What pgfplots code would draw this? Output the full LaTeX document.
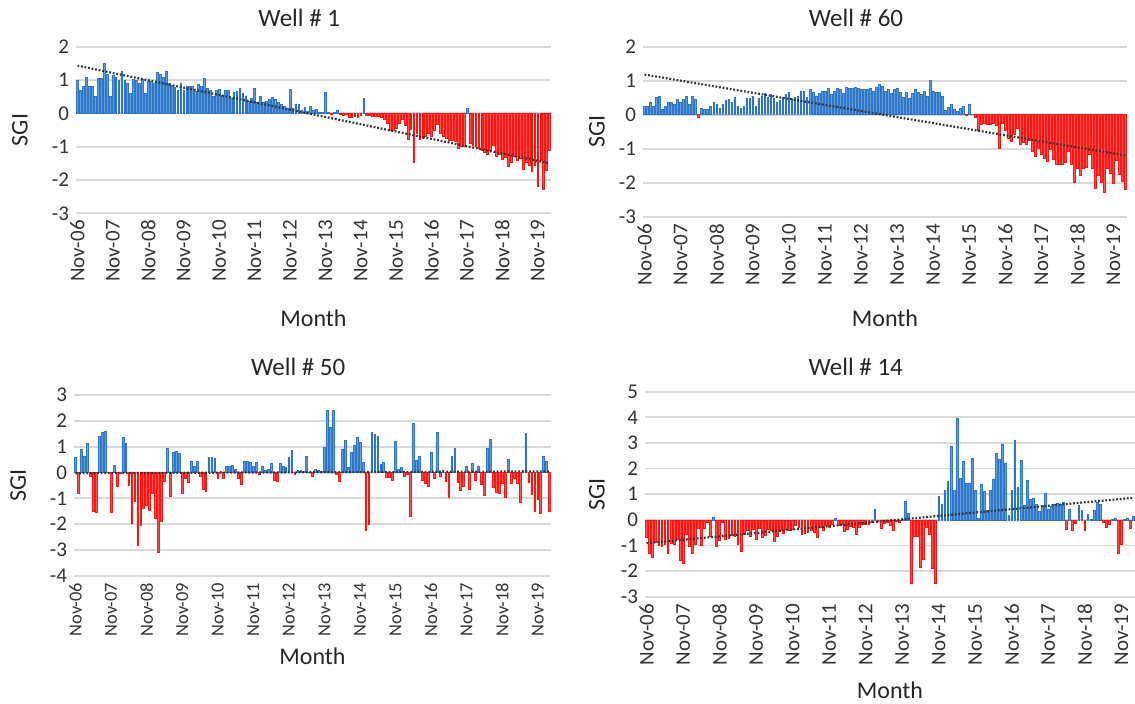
\documentclass[border=0pt]{standalone}
\usepackage{fontspec}
\setmainfont{Carlito}
\usepackage{pgfplots}
\usepackage{pgfplotstable}
\pgfplotsset{compat=1.18}
\definecolor{barblue}{RGB}{100,160,218}
\definecolor{barblueedge}{RGB}{46,117,200}
\definecolor{barred}{RGB}{255,90,90}
\definecolor{barrededge}{RGB}{255,20,20}
\definecolor{gridgray}{RGB}{217,217,217}

% Well # 1 (monthly SGI, Nov-06 onwards)
\pgfplotstableread{
y
0.98
0.68
0.82
1.08
0.82
0.82
0.50
1.05
1.05
1.50
1.17
0.50
1.15
1.08
1.00
1.27
1.00
0.90
0.60
1.02
0.98
0.90
1.02
0.60
0.95
0.95
0.90
1.23
1.17
1.08
1.27
0.90
0.85
0.78
0.70
0.90
0.68
0.82
0.82
0.82
0.65
0.87
0.82
1.05
0.75
0.70
0.52
0.68
0.72
0.55
0.68
0.68
0.45
0.62
0.65
0.75
0.60
0.52
0.35
0.45
0.75
0.32
0.50
0.32
0.35
0.42
0.48
0.42
0.32
0.28
0.22
0.15
0.72
0.15
0.28
0.28
0.10
0.18
0.05
0.20
0.10
0.12
0.02
0.03
0.62
0.03
-0.02
0.02
0.08
-0.03
-0.05
-0.04
-0.12
-0.12
-0.08
-0.12
-0.05
0.45
-0.05
-0.06
-0.08
-0.10
-0.08
-0.12
-0.18
-0.30
-0.50
-0.50
-0.45
-0.30
-0.18
-0.35
-0.78
-0.48
-1.48
-0.60
-0.78
-0.75
-0.70
-0.60
-0.68
-0.50
-0.33
-0.60
-0.68
-0.75
-0.80
-0.80
-0.85
-1.05
-1.00
-1.00
0.15
-0.90
-0.95
-1.00
-1.05
-1.12
-1.18
-1.22
-1.12
-0.95
-1.30
-1.22
-1.38
-1.33
-1.60
-1.48
-1.30
-1.40
-1.35
-1.68
-1.48
-1.55
-1.75
-1.55
-2.18
-1.40
-2.28
-1.70
-1.10
}\wellA

% Well # 60
\pgfplotstableread{
y
0.25
0.25
0.37
0.25
0.52
0.55
0.15
0.25
0.37
0.37
0.32
0.44
0.37
0.44
0.55
0.32
0.55
0.44
-0.08
0.20
0.15
0.15
0.25
0.37
0.30
0.20
0.30
0.42
0.44
0.37
0.52
0.25
0.20
0.25
0.47
0.47
0.55
0.26
0.47
0.55
0.62
0.52
0.60
0.47
0.37
0.42
0.52
0.60
0.65
0.47
0.52
0.55
0.70
0.70
0.52
0.75
0.65
0.55
0.62
0.70
0.70
0.78
0.60
0.68
0.78
0.75
0.62
0.80
0.78
0.78
0.80
0.78
0.75
0.75
0.75
0.78
0.70
0.82
0.90
0.85
0.70
0.75
0.62
0.75
0.78
0.65
0.52
0.65
0.47
0.62
0.75
0.65
0.60
0.70
0.55
1.00
0.70
0.65
0.65
0.55
0.13
0.22
0.30
0.15
0.10
0.20
0.25
-0.03
0.30
0.02
-0.07
-0.46
-0.27
-0.24
-0.27
-0.27
-0.24
-0.31
-1.00
-0.24
-0.46
-0.69
-0.78
-0.59
-0.41
-0.88
-0.82
-0.88
-0.75
-1.08
-1.23
-0.98
-1.15
-1.29
-1.37
-1.02
-1.30
-1.47
-1.47
-1.47
-1.41
-1.08
-1.47
-1.98
-1.59
-1.78
-1.59
-1.54
-1.15
-1.59
-2.16
-1.78
-2.00
-2.27
-1.57
-1.71
-2.03
-1.34
-1.74
-1.96
-2.20
}\wellB

% Well # 50
\pgfplotstableread{
y
0.58
-0.79
0.89
0.63
1.12
-0.14
-1.50
-1.56
1.42
1.55
1.61
0.02
-1.56
0.28
-0.53
-0.03
1.36
1.12
-0.49
-1.95
-1.11
-2.82
-2.04
-1.37
-1.27
-1.46
-0.79
-1.76
-3.11
-1.91
-0.36
0.93
-0.92
0.78
0.83
0.74
-0.79
-0.23
-0.39
0.44
0.22
0.44
-0.14
-0.66
-0.72
0.58
0.58
0.54
-0.23
0.03
-0.23
0.25
0.25
0.28
0.13
-0.23
-0.47
0.45
0.45
0.39
0.25
0.39
-0.08
0.25
0.09
0.13
0.35
-0.30
-0.34
0.35
0.25
0.19
0.58
0.84
-0.08
0.09
0.09
0.03
0.63
0.02
-0.14
0.13
0.09
0.03
0.97
2.39
1.74
2.39
-0.08
-0.34
0.89
1.23
0.19
0.78
1.06
1.36
1.16
0.39
-2.24
-2.00
1.55
1.47
1.41
0.32
0.39
-0.17
-0.19
-0.32
1.19
0.13
0.19
-0.14
-0.08
-1.69
1.90
0.48
0.63
-0.30
-0.43
-0.52
0.78
-0.23
1.55
-0.14
0.09
-0.34
-0.98
0.63
0.93
-0.39
-0.68
-0.52
0.25
-0.65
0.35
-0.30
0.25
-0.47
-0.88
0.93
1.28
-0.58
-0.78
-0.81
-0.43
-0.98
0.50
-0.43
-0.23
-0.43
-1.16
0.09
1.51
-0.39
-0.85
-1.50
-1.05
-1.59
0.63
0.45
-1.50
}\wellC

% Well # 14
\pgfplotstableread{
y
-0.68
-1.32
-1.48
-0.87
-1.00
-1.04
-0.97
-1.29
-0.91
-0.94
-0.74
-1.56
-1.71
-0.55
-1.04
-1.29
-0.94
-0.31
-1.00
-0.31
-0.10
-0.65
0.10
-1.04
-0.81
-0.09
-0.74
-0.70
-0.61
-0.65
-0.97
-1.23
-0.55
-0.39
-0.65
-0.35
-0.74
-0.31
-0.68
-0.61
-0.35
-0.42
-0.84
-0.64
-0.39
-0.51
-0.35
-0.39
-0.35
-0.22
-0.29
-0.57
-0.52
-0.48
-0.39
-0.48
-0.68
-0.29
-0.39
-0.22
-0.29
-0.18
0.08
-0.22
-0.18
-0.44
-0.35
-0.26
-0.29
-0.55
-0.29
-0.18
-0.16
-0.18
-0.09
0.43
-0.05
-0.31
-0.13
-0.09
-0.22
-0.42
-0.05
-0.09
0.02
0.71
0.26
-2.49
-0.65
-0.65
-1.84
-1.55
-0.29
-0.57
-1.88
-2.47
0.91
0.60
1.14
1.49
2.86
1.14
3.97
1.64
2.29
1.44
1.44
2.42
1.14
0.08
1.40
1.10
0.36
1.14
1.60
2.61
2.38
2.96
2.22
0.17
1.14
3.09
1.27
2.32
0.56
1.53
0.82
0.86
0.60
0.32
0.56
1.05
0.43
0.52
0.62
0.66
0.62
0.69
-0.35
0.43
-0.42
-0.12
0.56
0.36
-0.42
0.21
0.03
0.36
0.69
0.60
-0.09
-0.29
-0.18
0.03
0.08
-1.30
-0.96
0.02
0.08
-0.31
0.13
0.05
}\wellD

\pgfplotsset{
  sgi/.style={
    scale only axis,
    xmin=-0.5, xmax=160.5,
    axis line style={draw=none},
    tick style={draw=none},
    ymajorgrids,
    major grid style={gridgray, line width=0.9pt},
    xtick={0,12,...,156},
    xticklabels={Nov-06,Nov-07,Nov-08,Nov-09,Nov-10,Nov-11,Nov-12,Nov-13,Nov-14,Nov-15,Nov-16,Nov-17,Nov-18,Nov-19},
    xticklabel style={rotate=90, anchor=east, font=\fontsize{10.5}{12}\selectfont, text=black!80},
    yticklabel style={font=\fontsize{10.5}{12}\selectfont, text=black!80},
    /pgf/number format/assume math mode=true,
    ylabel={SGI}, xlabel={Month},
    label style={font=\fontsize{12}{14}\selectfont, text=black!85},
    title style={font=\fontsize{12.5}{14}\selectfont, text=black!85},
    every axis title shift=0pt,
  },
  posbar/.style={ybar, bar width=0.6, bar shift=0pt, fill=barblue, draw=barblueedge, line width=0.25pt, restrict y to domain=0:10},
  negbar/.style={ybar, bar width=0.6, bar shift=0pt, fill=barred, draw=barrededge, line width=0.25pt, restrict y to domain=-10:0},
  trend/.style={black!80, line width=1.1pt, dash pattern=on 0.9pt off 0.9pt},
}

\begin{document}
\begin{tikzpicture}
\path[use as bounding box] (0,0) rectangle (567.5pt,352pt);

% Well # 1
\begin{axis}[sgi, at={(38pt,245.35pt)}, anchor=south west,
  width=237.5pt, height=83.3pt, ymin=-3, ymax=2, ytick={-3,...,2},
  title={Well \# 1}, title style={at={(axis description cs:0.47,1.172)}, anchor=center},
  ylabel style={at={(axis description cs:-0.118,0.5)}, anchor=center},
  xlabel style={at={(axis description cs:0.5,-0.628)}, anchor=center}]
\addplot[posbar] table[x expr=\coordindex, y=y] {\wellA};
\addplot[negbar] table[x expr=\coordindex, y=y] {\wellA};
\addplot[trend] coordinates {(0,1.43) (160,-1.50)};
\end{axis}

% Well # 60
\begin{axis}[sgi, at={(321.5pt,243.65pt)}, anchor=south west,
  width=242pt, height=85pt, ymin=-3, ymax=2, ytick={-3,...,2},
  title={Well \# 60}, title style={at={(axis description cs:0.44,1.169)}, anchor=center},
  ylabel style={at={(axis description cs:-0.095,0.5)}, anchor=center},
  xlabel style={at={(axis description cs:0.5,-0.596)}, anchor=center}]
\addplot[posbar] table[x expr=\coordindex, y=y] {\wellB};
\addplot[negbar] table[x expr=\coordindex, y=y] {\wellB};
\addplot[trend] coordinates {(0,1.18) (160,-1.20)};
\end{axis}

% Well # 50
\begin{axis}[sgi, at={(37pt,64.15pt)}, anchor=south west,
  width=238.5pt, height=90.35pt, ymin=-4, ymax=3, ytick={-4,...,3},
  xticklabel style={font=\fontsize{9.2}{11}\selectfont},
  title={Well \# 50}, title style={at={(axis description cs:0.47,1.155)}, anchor=center},
  ylabel style={at={(axis description cs:-0.117,0.5)}, anchor=center},
  xlabel style={at={(axis description cs:0.5,-0.445)}, anchor=center}]
\addplot[posbar] table[x expr=\coordindex, y=y] {\wellC};
\addplot[negbar] table[x expr=\coordindex, y=y] {\wellC};
\addplot[trend] coordinates {(0,-0.03) (160,0.04)};
\end{axis}

% Well # 14
\begin{axis}[sgi, at={(322.5pt,53.65pt)}, anchor=south west,
  width=245pt, height=102.5pt, ymin=-3, ymax=5, ytick={-3,...,5},
  title={Well \# 14}, title style={at={(axis description cs:0.43,1.12)}, anchor=center},
  ylabel style={at={(axis description cs:-0.098,0.5)}, anchor=center},
  xlabel style={at={(axis description cs:0.5,-0.455)}, anchor=center}]
\addplot[posbar] table[x expr=\coordindex, y=y] {\wellD};
\addplot[negbar] table[x expr=\coordindex, y=y] {\wellD};
\addplot[trend] coordinates {(0,-0.91) (160,0.86)};
\end{axis}
\end{tikzpicture}
\end{document}
